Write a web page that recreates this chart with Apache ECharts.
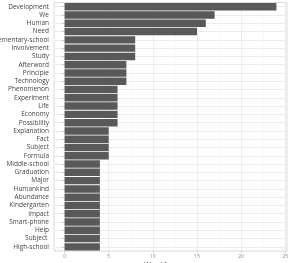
<!DOCTYPE html>
<html><head><meta charset="utf-8">
<script src="https://cdn.jsdelivr.net/npm/echarts@6/dist/echarts.min.js"></script>
<style>html,body{margin:0;padding:0;background:#fff}#c{width:291px;height:263px}</style>
</head><body><div id="c"></div>
<script>
const categories = ["Development","We","Human","Need","Elementary-school","Involvement","Study","Afterword","Principle","Technology","Phenomenon","Experiment","Life","Economy","Possibility","Explanation","Fact","Subject","Formula","Middle-school","Graduation","Major","Humankind","Abundance","Kindergarten","Impact","Smart-phone","Help","Subject ","High-school"];
const frequency = [24,17,16,15,8,8,8,7,7,7,6,6,6,6,6,5,5,5,5,4,4,4,4,4,4,4,4,4,4,4];
const majorTicks = [0,5,10,15,20,25];
const minorTicks = [2.5,7.5,12.5,17.5,22.5];
const xTitle = "Word frequency";

const chart = echarts.init(document.getElementById('c'));
chart.setOption({
  animation:false,
  grid:{left:54,right:4,top:2.6,bottom:12,show:true,borderColor:'#d9d9d9',borderWidth:1,backgroundColor:'transparent',containLabel:false,outerBoundsMode:'none'},
  xAxis:[{
    type:'value',min:-1.2,max:25.2,
    name:xTitle,nameLocation:'middle',nameGap:10,nameMoveOverlap:false,
    nameTextStyle:{fontSize:7,color:'#222',fontFamily:'Open Sans',verticalAlign:'top'},
    axisLine:{show:false},
    axisTick:{show:true,customValues:majorTicks,length:2,lineStyle:{color:'#ccc'}},
    axisLabel:{customValues:majorTicks,fontSize:5,color:'#888',margin:3,fontFamily:'Open Sans'},
    splitLine:{show:true,lineStyle:{color:'#ececec',width:1}}
  },{
    type:'value',min:-1.2,max:25.2,position:'bottom',
    axisLine:{show:false},axisLabel:{show:false},
    axisTick:{show:false,customValues:minorTicks},
    splitLine:{show:true,lineStyle:{color:'#f5f5f5',width:0.6}}
  }],
  yAxis:{
    type:'category',data:categories,inverse:true,
    axisLine:{show:false},
    axisTick:{show:true,alignWithLabel:true,interval:0,length:3,lineStyle:{color:'#ccc'}},
    axisLabel:{interval:0,fontSize:6.5,color:'#444',margin:5,fontFamily:'Open Sans'},
    splitLine:{show:true,interval:0,alignWithLabel:true,lineStyle:{color:'#ececec',width:1}}
  },
  series:[{
    type:'bar',data:frequency,barCategoryGap:'10%',
    itemStyle:{color:'#595959'}
  }]
});
</script></body></html>
